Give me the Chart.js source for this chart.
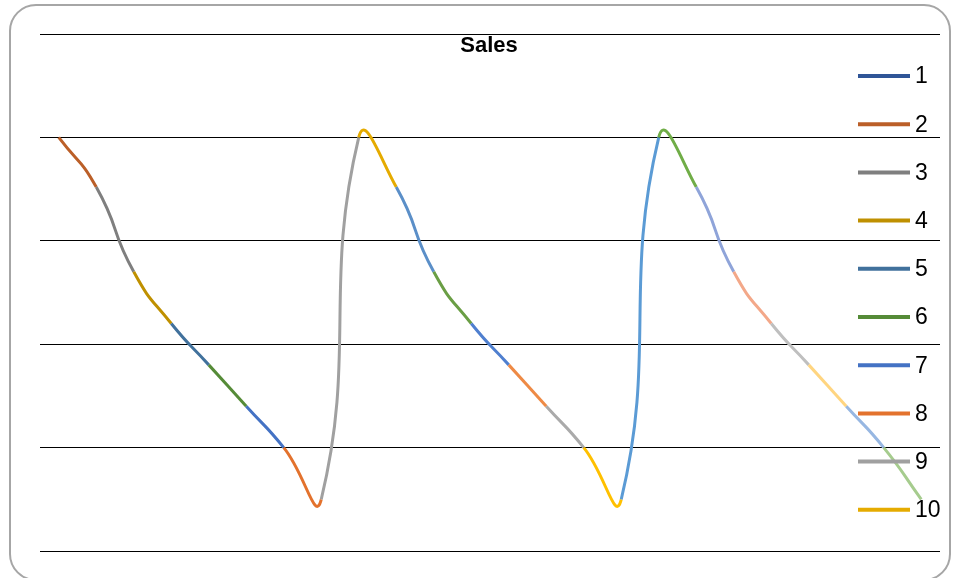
<!DOCTYPE html>
<html>
<head>
<meta charset="utf-8">
<script src="https://cdn.jsdelivr.net/npm/chart.js@4.4.1/dist/chart.umd.min.js"></script>
<style>
  html, body { margin: 0; padding: 0; background: #fff; }
  #grafico { display: block; }
</style>
</head>
<body>
<canvas id="grafico" width="956" height="578"></canvas>
<script>
// dados do grafico
const categorias = ['1','2','3','4','5','6','7','8','9','10','11','12','13','14','15','16','17','18','19','20','21','22','23','24'];
const vendas = [40, 35.2, 27, 22, 18, 14, 10, 5, 40, 35.2, 27, 22, 18, 14, 10, 5, 40, 35.2, 27, 22, 18, 14, 10, 5];
const coresPontos = [
  '#2F5597', '#BB5F28', '#7F7F7F', '#BF9000', '#41719C', '#558B37',
  '#4472C4', '#E3722D', '#A0A0A0', '#E5AB00', '#5B8FC8', '#6A9E45',
  '#4F7FCF', '#EE8A45', '#AAAAAA', '#FFC000', '#5B9BD5', '#70AD47',
  '#8FA4D9', '#F3A889', '#BFBFBF', '#FFD580', '#97B7E2', '#A6CC8E'
];
const legendaTextos = ['1','2','3','4','5','6','7','8','9','10'];
const titulo = 'Sales';

// moldura arredondada, titulo e legenda desenhados a mao
const extras = {
  id: 'extras',
  beforeDraw(chart) {
    const c = chart.ctx;
    c.save();
    c.fillStyle = '#fff';
    c.fillRect(0, 0, chart.width, chart.height);
    c.strokeStyle = '#A6A6A6';
    c.lineWidth = 2;
    c.beginPath();
    c.roundRect(10, 5, 940, 575, 26);
    c.stroke();
    c.restore();
  },
  afterDraw(chart) {
    const c = chart.ctx;
    c.save();
    c.fillStyle = '#000';
    c.font = 'bold 22px "Liberation Sans"';
    c.textAlign = 'center';
    c.textBaseline = 'alphabetic';
    c.fillText(titulo, 489, 52);

    c.font = '23px "Liberation Sans"';
    c.textAlign = 'left';
    c.textBaseline = 'middle';
    legendaTextos.forEach((txt, i) => {
      const y = 76 + i * 48.2;
      c.strokeStyle = coresPontos[i];
      c.lineWidth = 4;
      c.beginPath();
      c.moveTo(858, y);
      c.lineTo(910, y);
      c.stroke();
      c.fillStyle = '#000';
      c.fillText(txt, 915, y + 1);
    });
    c.restore();
  }
};

new Chart(document.getElementById('grafico'), {
  type: 'line',
  data: {
    labels: categorias,
    datasets: [{
      label: titulo,
      data: vendas,
      borderWidth: 3,
      tension: 0.55,
      pointRadius: 0,
      fill: false,
      borderColor: coresPontos[0],
      segment: {
        borderColor: ctx => coresPontos[ctx.p1DataIndex]
      }
    }]
  },
  options: {
    responsive: false,
    animation: false,
    devicePixelRatio: 1,
    layout: { padding: { left: 40, right: 16, top: 34, bottom: 27 } },
    plugins: {
      legend: { display: false },
      title: { display: false },
      tooltip: { enabled: false }
    },
    scales: {
      x: { type: 'category', display: false, offset: true },
      y: {
        min: 0,
        max: 50,
        ticks: { display: false, stepSize: 10 },
        border: { display: false },
        grid: { color: '#000', lineWidth: 1, drawTicks: false }
      }
    }
  },
  plugins: [extras]
});
</script>
</body>
</html>
